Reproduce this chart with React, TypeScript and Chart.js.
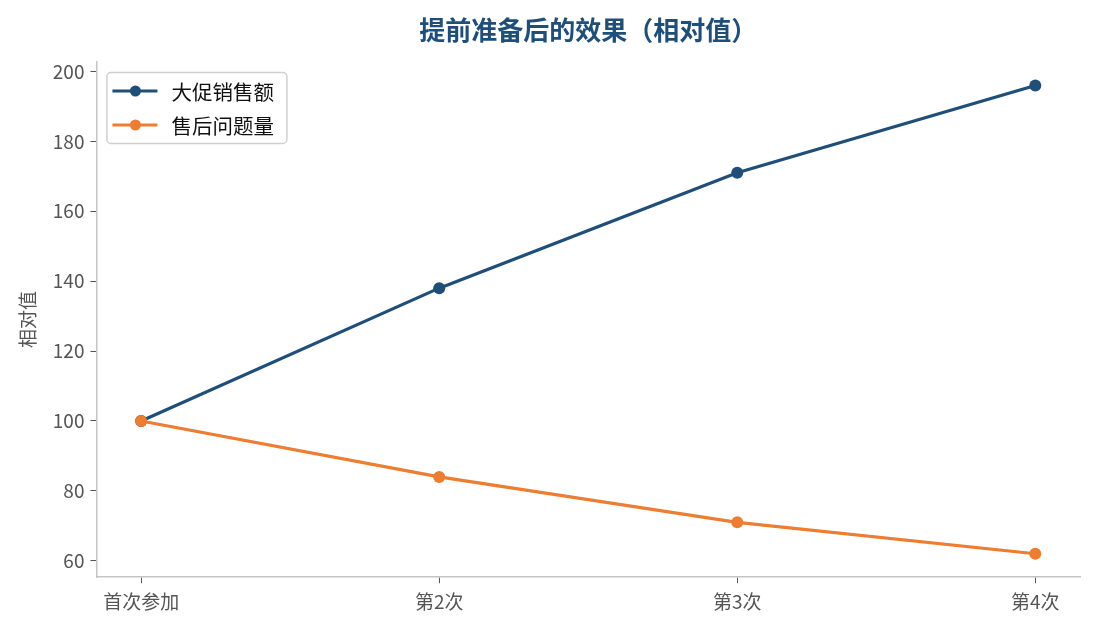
import { useEffect, useRef } from "react"
import { Chart, registerables } from "chart.js"

Chart.register(...registerables)

const categories = ["首次参加", "第2次", "第3次", "第4次"]
const salesValues = [100, 138, 171, 196]
const issueValues = [100, 84, 71, 62]
const yTicks = [60, 80, 100, 120, 140, 160, 180, 200]
const titleText = "提前准备后的效果（相对值）"

const FONT = "'Noto Sans CJK SC', 'Noto Sans', sans-serif"
const BLUE = "#1f4e79"
const ORANGE = "#ed7d31"

// 标题居中于绘图区，图例画在绘图区内部左上角
const titleAndLegend = {
  id: "titleAndLegend",
  afterDraw(chart: Chart) {
    const { ctx, chartArea } = chart
    ctx.save()
    ctx.fillStyle = BLUE
    ctx.font = `bold 26px ${FONT}`
    ctx.textAlign = "center"
    ctx.textBaseline = "middle"
    ctx.fillText(titleText, (chartArea.left + chartArea.right) / 2, 30)

    const x = chartArea.left + 10
    const y = chartArea.top + 10
    const w = 180
    const h = 71
    ctx.fillStyle = "rgba(255,255,255,0.8)"
    ctx.strokeStyle = "#d0d0d0"
    ctx.lineWidth = 1.5
    ctx.beginPath()
    ctx.roundRect(x + 0.5, y + 0.5, w, h, 4)
    ctx.fill()
    ctx.stroke()
    const items = [chart.data.datasets[0], chart.data.datasets[1]]
    items.forEach((ds, i) => {
      const rowY = y + 19 + i * 34
      const color = ds.borderColor as string
      ctx.strokeStyle = color
      ctx.lineWidth = 3
      ctx.beginPath()
      ctx.moveTo(x + 6, rowY)
      ctx.lineTo(x + 51, rowY)
      ctx.stroke()
      ctx.fillStyle = color
      ctx.beginPath()
      ctx.arc(x + 29, rowY, 5.5, 0, Math.PI * 2)
      ctx.fill()
      ctx.fillStyle = "#111"
      ctx.font = `20.5px ${FONT}`
      ctx.textAlign = "left"
      ctx.textBaseline = "middle"
      ctx.fillText(ds.label as string, x + 65, rowY + 1)
    })
    ctx.restore()
  },
}

export default function App() {
  const chartRef = useRef<HTMLCanvasElement>(null)
  const chartInstance = useRef<Chart | null>(null)

  useEffect(() => {
    document.body.style.margin = "0"
    if (!chartRef.current) return
    if (chartInstance.current) chartInstance.current.destroy()

    const ctx = chartRef.current.getContext("2d")
    if (!ctx) return

    chartInstance.current = new Chart(ctx, {
      type: "line",
      data: {
        datasets: [
          {
            label: "大促销售额",
            data: salesValues.map((v, i) => ({ x: i, y: v })),
            borderColor: BLUE,
            backgroundColor: BLUE,
            borderWidth: 3.2,
            pointRadius: 6,
            pointBorderWidth: 0,
            order: 1,
          },
          {
            label: "售后问题量",
            data: issueValues.map((v, i) => ({ x: i, y: v })),
            borderColor: ORANGE,
            backgroundColor: ORANGE,
            borderWidth: 3.2,
            pointRadius: 6,
            pointBorderWidth: 0,
            order: 0,
          },
        ],
      },
      options: {
        animation: false,
        responsive: false,
        maintainAspectRatio: false,
        layout: { padding: { left: 16, right: 15, top: 62, bottom: 10 } },
        scales: {
          x: {
            type: "linear",
            min: -0.15,
            max: 3.15,
            afterBuildTicks: (scale) => {
              scale.ticks = categories.map((_, i) => ({ value: i }))
            },
            grid: { drawOnChartArea: false, drawTicks: true, tickLength: 6, tickColor: "#555" },
            border: { color: "#c4c4c4", width: 1.5 },
            ticks: {
              color: "#555",
              font: { family: FONT, size: 19 },
              padding: 7,
              maxRotation: 0,
              callback: (value) => categories[value as number] ?? "",
            },
          },
          y: {
            min: 55.3,
            max: 202.7,
            afterBuildTicks: (scale) => {
              scale.ticks = yTicks.map((v) => ({ value: v }))
            },
            grid: { drawOnChartArea: false, drawTicks: true, tickLength: 6, tickColor: "#555" },
            border: { color: "#c4c4c4", width: 1.5 },
            ticks: {
              color: "#555",
              font: { family: FONT, size: 19 },
              padding: 6,
            },
            title: {
              display: true,
              text: "相对值",
              color: "#555",
              font: { family: FONT, size: 19 },
              padding: { top: 0, bottom: 8 },
            },
          },
        },
        plugins: {
          legend: { display: false },
          tooltip: { enabled: false },
          title: { display: false },
        },
      },
      plugins: [titleAndLegend],
    })

    return () => {
      if (chartInstance.current) {
        chartInstance.current.destroy()
        chartInstance.current = null
      }
    }
  }, [])

  return (
    <div style={{ width: 1095, height: 630, background: "#fff" }}>
      <canvas ref={chartRef} width={1095} height={630} style={{ width: 1095, height: 630 }} />
    </div>
  )
}
